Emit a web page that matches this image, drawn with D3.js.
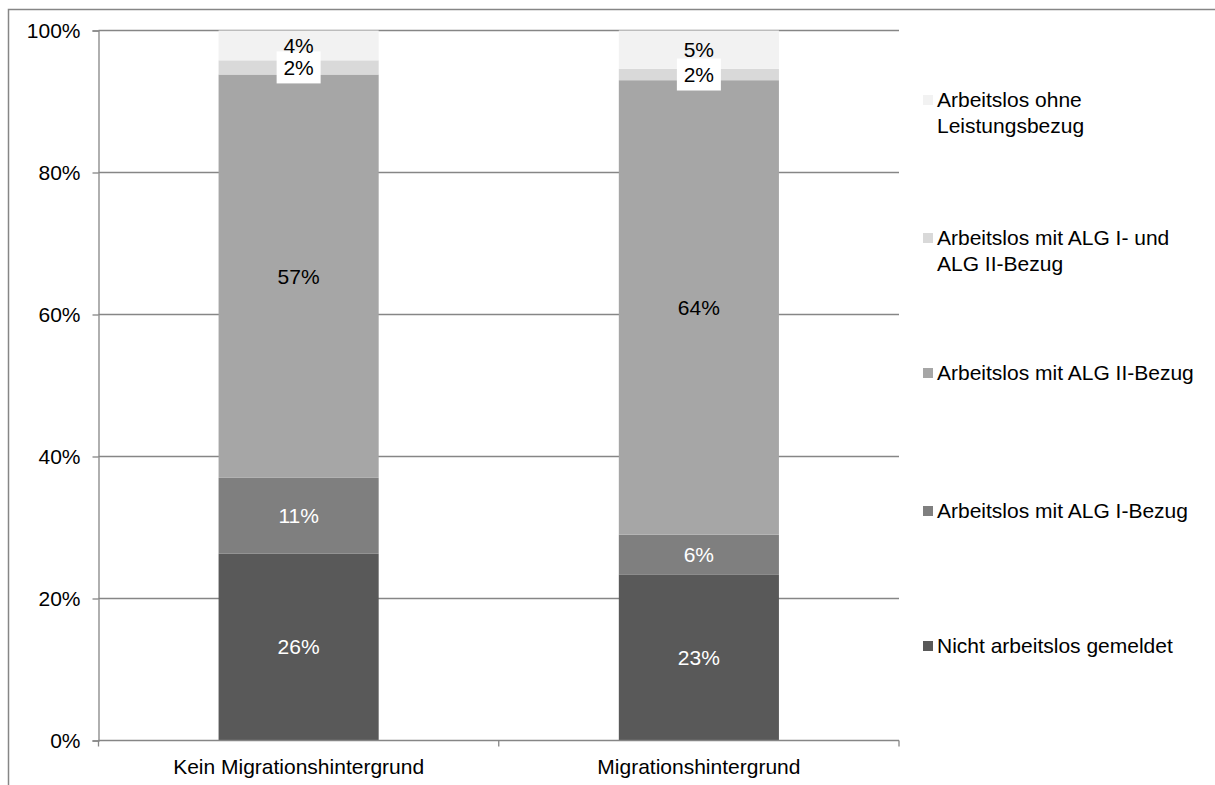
<!DOCTYPE html>
<html>
<head>
<meta charset="utf-8">
<script src="https://cdn.jsdelivr.net/npm/d3@7"></script>
<style>
  html, body { margin: 0; padding: 0; background: #fff; }
  svg { display: block; font-family: "Liberation Sans", Arial, sans-serif; }
</style>
</head>
<body>
<svg id="chart" width="1215" height="785"></svg>
<script>
// ---- data ----
const categories = ["Kein Migrationshintergrund", "Migrationshintergrund"];
const seriesNames = [
  "Nicht arbeitslos gemeldet",
  "Arbeitslos mit ALG I-Bezug",
  "Arbeitslos mit ALG II-Bezug",
  "Arbeitslos mit ALG I- und ALG II-Bezug",
  "Arbeitslos ohne Leistungsbezug"
];
const nichtArbeitslos = [26.3, 23.4];
const algI = [10.7, 5.6];
const algII = [56.8, 64.0];
const algIundII = [2.0, 1.6];
const ohneLeistung = [4.2, 5.4];
const yTicks = [0, 20, 40, 60, 80, 100];
const legendLines = [
  ["Arbeitslos ohne", "Leistungsbezug"],
  ["Arbeitslos mit ALG I- und", "ALG II-Bezug"],
  ["Arbeitslos mit ALG II-Bezug"],
  ["Arbeitslos mit ALG I-Bezug"],
  ["Nicht arbeitslos gemeldet"]
];

// ---- styles ----
const colors = ["#595959", "#7f7f7f", "#a6a6a6", "#d9d9d9", "#f2f2f2"];
const labelColors = ["#ffffff", "#ffffff", "#000000", "#000000", "#000000"];
const boxed = [false, false, false, true, false];
const fontSize = 21;
const axisColor = "#868686";

const seriesValues = [nichtArbeitslos, algI, algII, algIundII, ohneLeistung];
const rows = categories.map((c, i) => {
  const r = { cat: c };
  seriesNames.forEach((s, k) => r[s] = seriesValues[k][i]);
  return r;
});
const stacked = d3.stack().keys(seriesNames)(rows);

const svg = d3.select("#chart");

// outer frame
svg.append("path")
  .attr("d", "M8.5,790 V9.5 H1220")
  .attr("fill", "none").attr("stroke", axisColor).attr("stroke-width", 1.5);

const x0 = 98.5, x1 = 899, yb = 740.5, yt = 30.5;
const x = d3.scaleBand().domain(categories).range([x0, x1]).paddingInner(0.6).paddingOuter(0.3);
const y = d3.scaleLinear().domain([0, 100]).range([yb, yt]);

// gridlines
svg.append("g").selectAll("line").data(yTicks.filter(t => t > 0)).join("line")
  .attr("x1", x0).attr("x2", x1)
  .attr("y1", d => y(d)).attr("y2", d => y(d))
  .attr("stroke", axisColor).attr("stroke-width", 1.3);

// y axis
const yAxis = d3.axisLeft(y).tickValues(yTicks).tickFormat(d => d + "%").tickSize(6).tickPadding(12);
const gy = svg.append("g").attr("transform", `translate(${x0},0)`).call(yAxis);
gy.select(".domain").attr("stroke", axisColor).attr("stroke-width", 1.3);
gy.selectAll(".tick line").attr("stroke", axisColor).attr("stroke-width", 1.3);
gy.selectAll(".tick text").attr("fill", "#000").style("font-size", fontSize + "px")
  .style("font-family", '"Liberation Sans", Arial, sans-serif');

// bars
const gs = svg.append("g").selectAll("g").data(stacked).join("g")
  .attr("fill", (d, i) => colors[i]);
gs.selectAll("rect").data(d => d).join("rect")
  .attr("x", d => x(d.data.cat))
  .attr("width", x.bandwidth())
  .attr("y", d => y(d[1]))
  .attr("height", d => y(d[0]) - y(d[1]));

// x axis
const xAxisLine = svg.append("g");
xAxisLine.append("line").attr("x1", x0).attr("x2", x1).attr("y1", yb).attr("y2", yb)
  .attr("stroke", axisColor).attr("stroke-width", 1.3);
const bounds = [x0, (x(categories[0]) + x.bandwidth() + x(categories[1])) / 2, x1];
xAxisLine.selectAll("line.t").data(bounds).join("line").attr("class", "t")
  .attr("x1", d => d).attr("x2", d => d).attr("y1", yb).attr("y2", yb + 6)
  .attr("stroke", axisColor).attr("stroke-width", 1.3);
xAxisLine.selectAll("text").data(categories).join("text")
  .attr("x", d => x(d) + x.bandwidth() / 2)
  .attr("y", 767).attr("dy", "0.35em")
  .attr("text-anchor", "middle").style("font-size", fontSize + "px")
  .text(d => d);

// data labels
stacked.forEach((layer, k) => {
  layer.forEach(d => {
    const cx = x(d.data.cat) + x.bandwidth() / 2;
    const cy = (y(d[0]) + y(d[1])) / 2;
    const txt = Math.round(d[1] - d[0]) + "%";
    if (boxed[k]) {
      svg.append("rect").attr("x", cx - 22).attr("y", cy - 16).attr("width", 44).attr("height", 32)
        .attr("fill", "#fff");
    }
    svg.append("text").attr("x", cx).attr("y", cy).attr("dy", "0.35em")
      .attr("text-anchor", "middle").attr("fill", labelColors[k])
      .style("font-size", fontSize + "px").text(txt);
  });
});

// legend
const legendY = [100, 238, 373, 511, 646];
const lg = svg.append("g");
legendLines.forEach((lines, i) => {
  const k = seriesNames.length - 1 - i;
  lg.append("rect").attr("x", 923).attr("y", legendY[i] - 5).attr("width", 10).attr("height", 10)
    .attr("fill", colors[k]);
  lines.forEach((ln, j) => {
    lg.append("text").attr("x", 937).attr("y", legendY[i] + j * 26).attr("dy", "0.35em")
      .style("font-size", fontSize + "px").attr("fill", "#000").text(ln);
  });
});
</script>
</body>
</html>
